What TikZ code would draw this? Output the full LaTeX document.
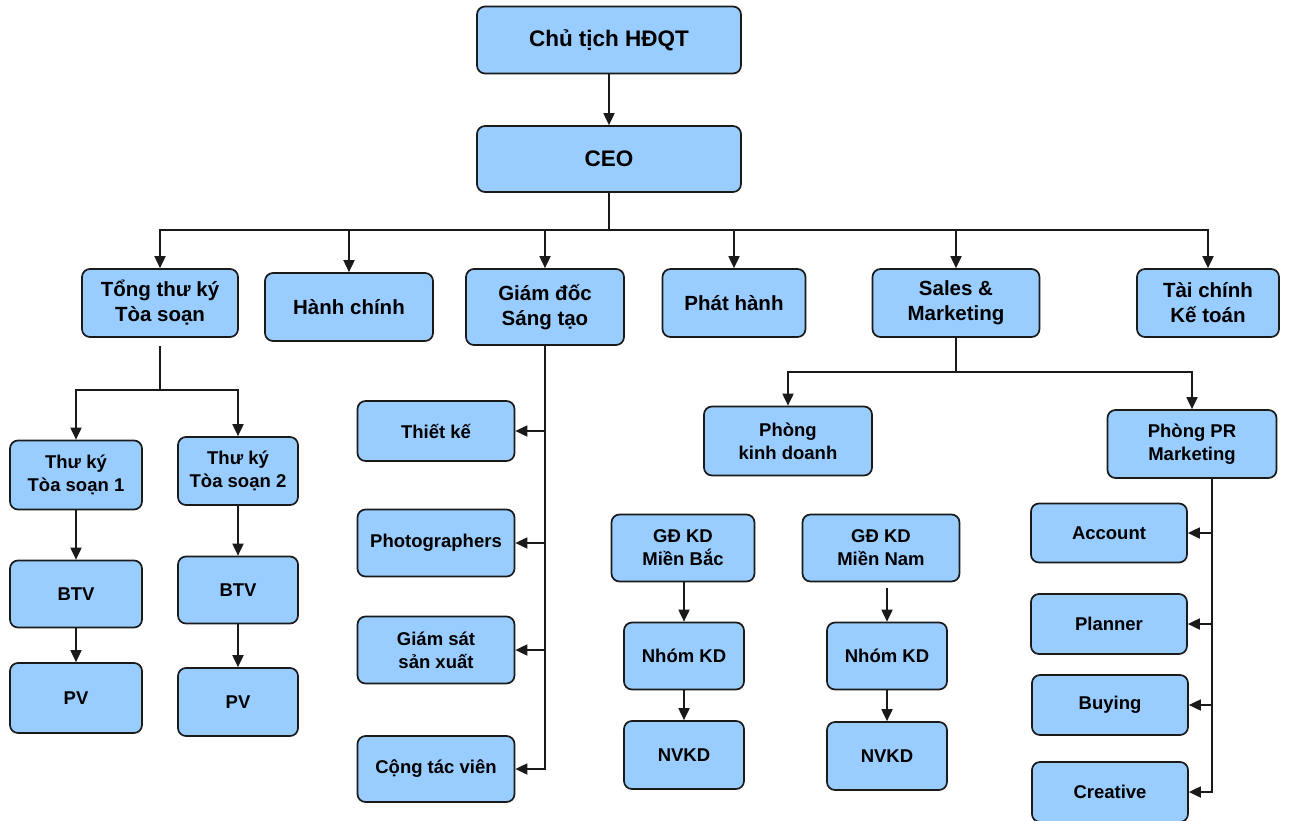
\documentclass[tikz,border=0pt]{standalone}
\usepackage{fontspec}
\setmainfont{Liberation Sans}
\usetikzlibrary{arrows.meta,positioning}
\definecolor{orgblue}{HTML}{99CCFF}
\definecolor{orgline}{HTML}{1A1A1A}

\begin{document}
\begin{tikzpicture}[
  x=1pt, y=-1pt,
  box/.style={draw=orgline, line width=1.7pt, fill=orgblue, rounded corners=8pt,
              align=center, inner sep=2pt, font=\bfseries\fontsize{18.5}{23}\selectfont},
  topbox/.style={box, font=\bfseries\fontsize{22.5}{26}\selectfont},
  midbox/.style={box, font=\bfseries\fontsize{20.5}{25}\selectfont},
  link/.style={draw=orgline, line width=1.8pt},
  arr/.style={link, -{Triangle[length=12pt,width=11pt]}},
]
\useasboundingbox (0,0) rectangle (1291,820);

% ---------------- board and CEO ---------------------------------------
\node[topbox, minimum width=264, minimum height=67] (chu) at (609,40) {Chủ tịch HĐQT};
\node[topbox, minimum width=264, minimum height=66] (ceo) at (609,159) {CEO};

% ---------------- departments -----------------------------------------
\node[midbox, minimum width=156, minimum height=68] (tongtk) at (160,303) {Tổng thư ký\\Tòa soạn};
\node[midbox, minimum width=168, minimum height=68] (hanhchinh) at (349,307) {Hành chính};
\node[midbox, minimum width=158, minimum height=76] (gdst) at (545,307) {Giám đốc\\Sáng tạo};
\node[midbox, minimum width=143, minimum height=68] (phathanh) at (734,303) {Phát hành};
\node[midbox, minimum width=167, minimum height=68] (sales) at (956,303) {Sales \&\\Marketing};
\node[midbox, minimum width=142, minimum height=68] (taichinh) at (1208,303) {Tài chính\\Kế toán};

% ---------------- newsroom --------------------------------------------
\node[box, minimum width=132, minimum height=69] (tk1) at (76,475) {Thư ký\\Tòa soạn 1};
\node[box, minimum width=120, minimum height=68] (tk2) at (238,471) {Thư ký\\Tòa soạn 2};
\node[box, minimum width=132, minimum height=67] (btv1) at (76,594) {BTV};
\node[box, minimum width=120, minimum height=67] (btv2) at (238,590) {BTV};
\node[box, minimum width=132, minimum height=70] (pv1) at (76,698) {PV};
\node[box, minimum width=120, minimum height=68] (pv2) at (238,702) {PV};

% ---------------- creative --------------------------------------------
\node[box, minimum width=157, minimum height=60] (thietke) at (436,431) {Thiết kế};
\node[box, minimum width=157, minimum height=67] (photo) at (436,543) {Photographers};
\node[box, minimum width=157, minimum height=67] (giamsat) at (436,650) {Giám sát\\sản xuất};
\node[box, minimum width=157, minimum height=66] (ctv) at (436,769) {Cộng tác viên};

% ---------------- sales and marketing ---------------------------------
\node[box, minimum width=168, minimum height=69] (pkd) at (788,441) {Phòng\\kinh doanh};
\node[box, minimum width=169, minimum height=68] (ppr) at (1192,444) {Phòng PR\\Marketing};
\node[box, minimum width=143, minimum height=67] (gdbac) at (683,548) {GĐ KD\\Miền Bắc};
\node[box, minimum width=157, minimum height=67] (gdnam) at (881,548) {GĐ KD\\Miền Nam};
\node[box, minimum width=120, minimum height=67] (nhombac) at (684,656) {Nhóm KD};
\node[box, minimum width=120, minimum height=68] (nvbac) at (684,755) {NVKD};
\node[box, minimum width=120, minimum height=67] (nhomnam) at (887,656) {Nhóm KD};
\node[box, minimum width=120, minimum height=68] (nvnam) at (887,756) {NVKD};

\node[box, minimum width=156, minimum height=59] (account) at (1109,533) {Account};
\node[box, minimum width=156, minimum height=60] (planner) at (1109,624) {Planner};
\node[box, minimum width=156, minimum height=60] (buying) at (1110,705) {Buying};
\node[box, minimum width=156, minimum height=60] (creative) at (1110,792) {Creative};

% ---------------- connectors ------------------------------------------
\draw[arr] (chu) -- (ceo);
\coordinate (ceojoin) at (609,230);
\draw[link] (ceo) -- (ceojoin);
\foreach \n in {tongtk,hanhchinh,gdst,phathanh,sales,taichinh}
  \draw[arr] (ceojoin) -| (\n.north);

\coordinate (tkjoin) at (160,390);
\draw[link] ([yshift=-8pt]tongtk.south) -- (tkjoin);
\draw[arr] (tkjoin) -| (tk1.north);
\draw[arr] (tkjoin) -| (tk2.north);
\draw[arr] (tk1) -- (btv1);
\draw[arr] (btv1) -- (pv1);
\draw[arr] (tk2) -- (btv2);
\draw[arr] (btv2) -- (pv2);

\draw[arr] (gdst.south) |- (ctv.east);
\foreach \n in {thietke,photo,giamsat}
  \draw[arr] (gdst.south |- \n.east) -- (\n.east);

\coordinate (smjoin) at (956,372);
\draw[link] (sales) -- (smjoin);
\draw[arr] (smjoin) -| (pkd.north);
\draw[arr] (smjoin) -| (ppr.north);

\draw[arr] (gdbac.south -| nhombac.north) -- (nhombac.north);
\draw[arr] (nhombac) -- (nvbac);
\draw[arr] ([yshift=-6pt]gdnam.south -| nhomnam.north) -- (nhomnam.north);
\draw[arr] (nhomnam) -- (nvnam);

\coordinate (prtrunk) at ([xshift=20pt]ppr.south);
\draw[arr] (prtrunk) |- (creative.east);
\foreach \n in {account,planner,buying}
  \draw[arr] (prtrunk |- \n.east) -- (\n.east);

\end{tikzpicture}
\end{document}
